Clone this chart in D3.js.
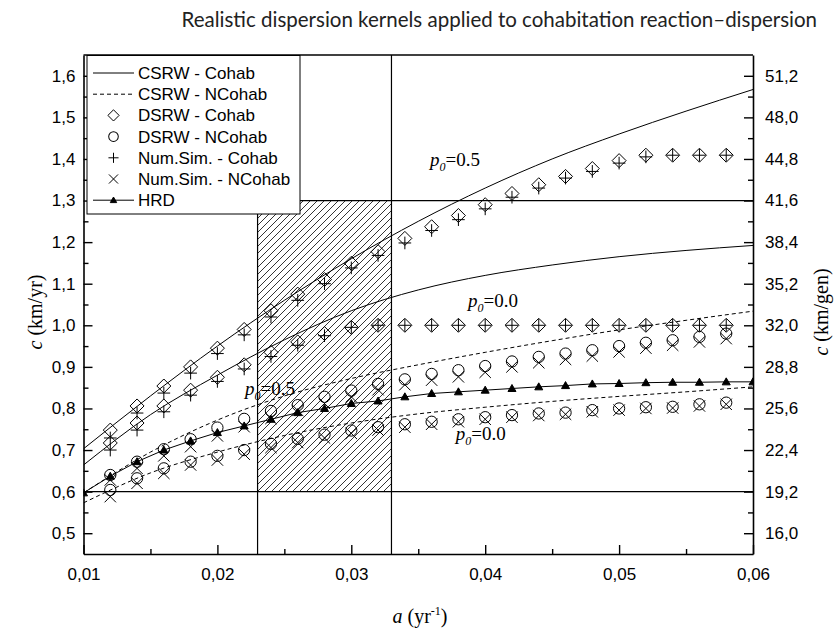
<!DOCTYPE html>
<html>
<head>
<meta charset="utf-8">
<script src="https://cdn.jsdelivr.net/npm/d3@7"></script>
<style>
  body { margin: 0; background: #fff; }
  svg { display: block; }
</style>
</head>
<body>
<svg id="chart" width="834" height="630"></svg>
<script>
// Dispersal rate a (yr^-1) at which the discrete models / simulations were evaluated
const aPoints = [0.012, 0.014, 0.016, 0.018, 0.020, 0.022, 0.024, 0.026, 0.028, 0.030, 0.032, 0.034,
                 0.036, 0.038, 0.040, 0.042, 0.044, 0.046, 0.048, 0.050, 0.052, 0.054, 0.056, 0.058];
// Abscissae for the continuous (CSRW) curves
const aCurve = [0.010, 0.015, 0.020, 0.025, 0.030, 0.035, 0.040, 0.045, 0.050, 0.055, 0.060];
// Abscissae for the HRD curve
const aHrd = [0.010, 0.012, 0.014, 0.016, 0.018, 0.020, 0.022, 0.024, 0.026, 0.028, 0.030, 0.032, 0.034,
              0.036, 0.038, 0.040, 0.042, 0.044, 0.046, 0.048, 0.050, 0.052, 0.054, 0.056, 0.058, 0.060];

// Front speed c (km/yr)
const csrwCohab05  = [0.703, 0.830, 0.950, 1.060, 1.160, 1.250, 1.330, 1.400, 1.460, 1.515, 1.567];
const csrwCohab00  = [0.664, 0.785, 0.880, 0.965, 1.035, 1.085, 1.120, 1.145, 1.165, 1.180, 1.192];
const csrwNCohab05 = [0.597, 0.695, 0.772, 0.830, 0.872, 0.905, 0.935, 0.963, 0.989, 1.012, 1.034];
const csrwNCohab00 = [0.573, 0.645, 0.695, 0.735, 0.765, 0.787, 0.803, 0.817, 0.829, 0.840, 0.852];

const dsrwCohab05  = [0.748, 0.806, 0.854, 0.900, 0.945, 0.990, 1.035, 1.075, 1.110, 1.149, 1.177, 1.209,
                      1.237, 1.264, 1.290, 1.317, 1.338, 1.358, 1.377, 1.396, 1.409, 1.409, 1.409, 1.409];
const dsrwCohab00  = [0.717, 0.765, 0.806, 0.844, 0.875, 0.905, 0.935, 0.960, 0.980, 0.995, 1.000, 1.000,
                      1.000, 1.000, 1.000, 1.000, 1.000, 1.000, 1.000, 1.000, 1.000, 1.000, 1.000, 1.000];
const dsrwNCohab05 = [0.640, 0.672, 0.702, 0.726, 0.754, 0.775, 0.794, 0.808, 0.828, 0.843, 0.859, 0.870,
                      0.883, 0.892, 0.902, 0.913, 0.924, 0.932, 0.940, 0.950, 0.958, 0.964, 0.972, 0.980];
const dsrwNCohab00 = [0.604, 0.632, 0.656, 0.672, 0.686, 0.700, 0.715, 0.727, 0.737, 0.747, 0.755, 0.762,
                      0.768, 0.774, 0.779, 0.784, 0.788, 0.790, 0.796, 0.800, 0.803, 0.804, 0.810, 0.814];

const simCohab05   = [0.729, 0.789, 0.837, 0.885, 0.932, 0.977, 1.020, 1.060, 1.100, 1.138, 1.168, 1.198,
                      1.228, 1.254, 1.280, 1.308, 1.330, 1.354, 1.370, 1.390, 1.405, 1.409, 1.409, 1.409];
const simCohab00   = [0.700, 0.748, 0.792, 0.832, 0.865, 0.895, 0.925, 0.952, 0.975, 0.995, 1.000, 1.000,
                      1.000, 1.000, 1.000, 1.000, 1.000, 1.000, 1.000, 1.000, 1.000, 1.000, 1.000, 1.000];
const simNCohab05  = [0.628, 0.656, 0.686, 0.708, 0.734, 0.756, 0.776, 0.795, 0.812, 0.828, 0.845, 0.857,
                      0.868, 0.876, 0.887, 0.900, 0.910, 0.918, 0.926, 0.936, 0.945, 0.952, 0.960, 0.968];
const simNCohab00  = [0.588, 0.620, 0.644, 0.664, 0.676, 0.690, 0.706, 0.718, 0.729, 0.740, 0.748, 0.755,
                      0.762, 0.768, 0.774, 0.779, 0.783, 0.786, 0.792, 0.796, 0.800, 0.801, 0.806, 0.810];

const hrd = [0.597, 0.637, 0.672, 0.700, 0.722, 0.742, 0.758, 0.774, 0.790, 0.800, 0.812, 0.818, 0.828,
             0.836, 0.840, 0.844, 0.848, 0.852, 0.855, 0.859, 0.860, 0.862, 0.863, 0.863, 0.864, 0.864];

// Observed range of dispersal rates and front speeds (shaded box)
const bandA = [0.023, 0.033];
const bandC = [0.6, 1.3];

// Axis ticks
const xTicks = [0.01, 0.02, 0.03, 0.04, 0.05, 0.06];
const xMinor = [0.015, 0.025, 0.035, 0.045, 0.055];
const yTicks = [0.5, 0.6, 0.7, 0.8, 0.9, 1.0, 1.1, 1.2, 1.3, 1.4, 1.5, 1.6];
const yMinor = [0.55, 0.65, 0.75, 0.85, 0.95, 1.05, 1.15, 1.25, 1.35, 1.45, 1.55];
const genTime = 32; // years per generation, for the km/gen axis

const legendLabels = ["CSRW - Cohab", "CSRW - NCohab", "DSRW - Cohab", "DSRW - NCohab",
                      "Num.Sim. - Cohab", "Num.Sim. - NCohab", "HRD"];

// Curve annotations: [a, c, p0 text]
const annotations = [
  [0.03588, 1.383, "0.5"],
  [0.03872, 1.044, "0.0"],
  [0.02206, 0.832, "0.5"],
  [0.0378, 0.725, "0.0"]
];

const svg = d3.select("#chart");
const x = d3.scaleLinear().domain([0.01, 0.06]).range([83.5, 753]);
const y = d3.scaleLinear().domain([0.45, 1.65]).range([554, 55]);
const fmt = d3.format(".2f");
const comma = s => s.replace(".", ",");

// Hatch pattern for the observed box
const defs = svg.append("defs");
const pat = defs.append("pattern").attr("id", "hatch")
  .attr("patternUnits", "userSpaceOnUse").attr("width", 7).attr("height", 7);
pat.append("path").attr("d", "M-1,1 l2,-2 M0,7 l7,-7 M6,8 l2,-2")
  .attr("stroke", "#000").attr("stroke-width", 0.8);
defs.append("clipPath").attr("id", "plotClip").append("rect")
  .attr("x", x(0.01)).attr("y", y(1.65)).attr("width", x(0.06) - x(0.01)).attr("height", y(0.45) - y(1.65));

// Title
svg.append("text").attr("x", 817).attr("y", 27).attr("text-anchor", "end")
  .attr("font-family", "Lato, 'Open Sans', sans-serif").attr("font-size", 20.5).attr("fill", "#222")
  .text("Realistic dispersion kernels applied to cohabitation reaction–dispersion");

const plot = svg.append("g").attr("clip-path", "url(#plotClip)");

// Shaded box and reference lines
plot.append("rect")
  .attr("x", x(bandA[0])).attr("y", y(bandC[1]))
  .attr("width", x(bandA[1]) - x(bandA[0])).attr("height", y(bandC[0]) - y(bandC[1]))
  .attr("fill", "url(#hatch)");
bandA.forEach(a => plot.append("line")
  .attr("x1", x(a)).attr("x2", x(a)).attr("y1", y(0.45)).attr("y2", y(1.65))
  .attr("stroke", "#000").attr("stroke-width", 1.2));
plot.append("line").attr("x1", x(0.01)).attr("x2", x(0.06)).attr("y1", y(bandC[0])).attr("y2", y(bandC[0]))
  .attr("stroke", "#000").attr("stroke-width", 1.2);
plot.append("line").attr("x1", x(bandA[0])).attr("x2", x(0.06)).attr("y1", y(bandC[1])).attr("y2", y(bandC[1]))
  .attr("stroke", "#000").attr("stroke-width", 1.2);

// Continuous curves
const line = d3.line().x(d => x(d[0])).y(d => y(d[1])).curve(d3.curveMonotoneX);
function drawCurve(xs, ys, dash) {
  plot.append("path").datum(xs.map((a, i) => [a, ys[i]]))
    .attr("d", line).attr("fill", "none").attr("stroke", "#000").attr("stroke-width", 1)
    .attr("stroke-dasharray", dash || null);
}
drawCurve(aCurve, csrwCohab05);
drawCurve(aCurve, csrwCohab00);
drawCurve(aCurve, csrwNCohab05, "4,3");
drawCurve(aCurve, csrwNCohab00, "4,3");
plot.append("path").datum(aHrd.map((a, i) => [a, hrd[i]]))
  .attr("d", d3.line().x(d => x(d[0])).y(d => y(d[1])))
  .attr("fill", "none").attr("stroke", "#000").attr("stroke-width", 1);

// Marker shapes
const plusType = { draw(ctx, size) { const r = Math.sqrt(size) / 2;
  ctx.moveTo(-r, 0); ctx.lineTo(r, 0); ctx.moveTo(0, -r); ctx.lineTo(0, r); } };
const timesType = { draw(ctx, size) { const r = Math.sqrt(size) / 2;
  ctx.moveTo(-r, -r); ctx.lineTo(r, r); ctx.moveTo(-r, r); ctx.lineTo(r, -r); } };
const diamondType = { draw(ctx, size) { const r = Math.sqrt(size) / 2;
  ctx.moveTo(0, -r); ctx.lineTo(r, 0); ctx.lineTo(0, r); ctx.lineTo(-r, 0); ctx.closePath(); } };
const triType = { draw(ctx, size) { const r = Math.sqrt(size) / 2;
  ctx.moveTo(0, -r); ctx.lineTo(r, r * 0.75); ctx.lineTo(-r, r * 0.75); ctx.closePath(); } };

const markers = {
  diamond: { path: d3.symbol(diamondType, 196)(), fill: "none" },
  circle:  { path: d3.symbol(d3.symbolCircle, 100)(), fill: "none" },
  plus:    { path: d3.symbol(plusType, 160)(), fill: "none" },
  times:   { path: d3.symbol(timesType, 130)(), fill: "none" },
  tri:     { path: d3.symbol(triType, 64)(), fill: "#000" }
};

function drawMarkers(xs, ys, kind) {
  const m = markers[kind];
  plot.append("g").selectAll("path").data(xs.map((a, i) => [a, ys[i]])).join("path")
    .attr("transform", d => `translate(${x(d[0])},${y(d[1])})`)
    .attr("d", m.path).attr("fill", m.fill).attr("stroke", "#000").attr("stroke-width", 1);
}
drawMarkers(aPoints, dsrwCohab05, "diamond");
drawMarkers(aPoints, dsrwCohab00, "diamond");
drawMarkers(aPoints, dsrwNCohab05, "circle");
drawMarkers(aPoints, dsrwNCohab00, "circle");
drawMarkers(aPoints, simCohab05, "plus");
drawMarkers(aPoints, simCohab00, "plus");
drawMarkers(aPoints, simNCohab05, "times");
drawMarkers(aPoints, simNCohab00, "times");
drawMarkers(aHrd, hrd, "tri");

// p0 annotations
annotations.forEach(([a, c, v]) => {
  const t = svg.append("text").attr("x", x(a)).attr("y", y(c))
    .attr("font-family", "'Liberation Serif', 'Times New Roman', serif").attr("font-size", 19);
  t.append("tspan").attr("font-style", "italic").text("p");
  t.append("tspan").attr("font-style", "italic").attr("font-size", 12).attr("dy", 5).text("0");
  t.append("tspan").attr("dy", -5).text("=" + v);
});

// Axes
const tickFont = "'Liberation Sans', Arial, sans-serif";
function styleAxis(g) {
  g.selectAll(".domain").attr("stroke-width", 1.6);
  g.selectAll(".tick line").attr("stroke-width", 1.4);
  g.selectAll("text").attr("font-family", tickFont).attr("font-size", 17).attr("fill", "#000");
}
svg.append("g").attr("transform", `translate(0,${y(0.45)})`)
  .call(d3.axisBottom(x).tickValues(xTicks).tickSizeInner(-9).tickSizeOuter(0).tickPadding(14)
    .tickFormat(d => comma(fmt(d))))
  .call(styleAxis);
svg.append("g").attr("transform", `translate(0,${y(0.45)})`)
  .call(d3.axisBottom(x).tickValues(xMinor).tickSizeInner(-5).tickSizeOuter(0).tickFormat(""))
  .call(g => g.select(".domain").remove()).call(styleAxis);
svg.append("g").attr("transform", `translate(${x(0.01)},0)`)
  .call(d3.axisLeft(y).tickValues(yTicks).tickSizeInner(-9).tickSizeOuter(0).tickPadding(8)
    .tickFormat(d => d3.format(".1f")(d).replace(".", ",")))
  .call(styleAxis);
svg.append("g").attr("transform", `translate(${x(0.01)},0)`)
  .call(d3.axisLeft(y).tickValues(yMinor).tickSizeInner(-5).tickSizeOuter(0).tickFormat(""))
  .call(g => g.select(".domain").remove()).call(styleAxis);
svg.append("g").attr("transform", `translate(${x(0.06)},0)`)
  .call(d3.axisRight(y).tickValues(yTicks).tickSizeInner(-9).tickSizeOuter(0).tickPadding(12)
    .tickFormat(d => d3.format(".1f")(d * genTime).replace(".", ",")))
  .call(styleAxis);
svg.append("g").attr("transform", `translate(${x(0.06)},0)`)
  .call(d3.axisRight(y).tickValues(yMinor).tickSizeInner(-5).tickSizeOuter(0).tickFormat(""))
  .call(g => g.select(".domain").remove()).call(styleAxis);
svg.append("line").attr("x1", x(0.01)).attr("x2", x(0.06)).attr("y1", y(1.65)).attr("y2", y(1.65))
  .attr("stroke", "#000").attr("stroke-width", 1.6);

// Axis titles
const serif = "'Liberation Serif', 'Times New Roman', serif";
const xt = svg.append("text").attr("x", 420).attr("y", 623).attr("text-anchor", "middle")
  .attr("font-family", serif).attr("font-size", 20);
xt.append("tspan").attr("font-style", "italic").text("a");
xt.append("tspan").text(" (yr");
xt.append("tspan").attr("font-size", 12).attr("dy", -8).text("-1");
xt.append("tspan").attr("dy", 8).text(")");

const yl = svg.append("text").attr("transform", "translate(42,312) rotate(-90)").attr("text-anchor", "middle")
  .attr("font-family", serif).attr("font-size", 20);
yl.append("tspan").attr("font-style", "italic").text("c");
yl.append("tspan").text(" (km/yr)");

const yr = svg.append("text").attr("transform", "translate(828,312) rotate(-90)").attr("text-anchor", "middle")
  .attr("font-family", serif).attr("font-size", 20);
yr.append("tspan").attr("font-style", "italic").text("c");
yr.append("tspan").text(" (km/gen)");

// Legend
const lg = svg.append("g");
lg.append("rect").attr("x", 87).attr("y", 55.5).attr("width", 213).attr("height", 158.5)
  .attr("fill", "#fff").attr("stroke", "#000").attr("stroke-width", 1);
const rowY = i => 73 + i * 21.2;
legendLabels.forEach((lab, i) => {
  const cy = rowY(i);
  lg.append("text").attr("x", 138).attr("y", cy + 6).attr("font-family", tickFont)
    .attr("font-size", 17).text(lab);
  if (i < 2) {
    lg.append("line").attr("x1", 93).attr("x2", 134).attr("y1", cy).attr("y2", cy)
      .attr("stroke", "#000").attr("stroke-width", 1).attr("stroke-dasharray", i === 1 ? "4,3" : null);
  } else if (i === 6) {
    lg.append("line").attr("x1", 93).attr("x2", 134).attr("y1", cy).attr("y2", cy)
      .attr("stroke", "#000").attr("stroke-width", 1);
  }
  const kind = [null, null, "diamond", "circle", "plus", "times", "tri"][i];
  if (kind) {
    const m = markers[kind];
    const scale = kind === "diamond" ? 0.8 : (kind === "circle" ? 0.85 : 0.8);
    lg.append("path").attr("transform", `translate(113.5,${cy}) scale(${scale})`)
      .attr("d", m.path).attr("fill", m.fill).attr("stroke", "#000").attr("stroke-width", 1 / scale);
  }
});
</script>
</body>
</html>
